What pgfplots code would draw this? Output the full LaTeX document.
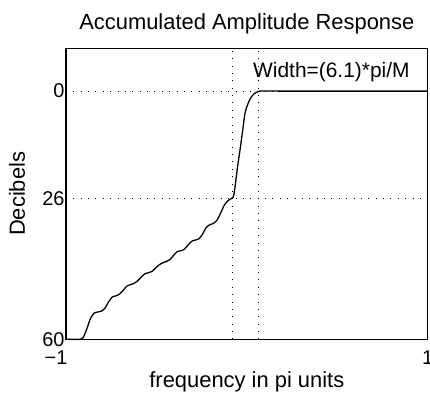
\documentclass[border=0pt]{standalone}
\usepackage{pgfplots}
\pgfplotsset{compat=1.18}
\usepackage{fontspec}
\setmainfont{Liberation Sans}
\begin{document}
\begin{tikzpicture}
\useasboundingbox (-66bp,-59.7bp) rectangle (364bp,339.3bp);
\begin{axis}[
  at={(0,0)}, anchor=south west,
  scale only axis, width=361.7bp, height=290.8bp,
  xmin=-1, xmax=1, ymin=-60, ymax=10.3,
  xtick={-1,-0.08,0.064,1},
  xticklabels={\makebox[0pt][r]{−1\kern-1.4bp},,,1},
  ytick={-60,-26,0},
  yticklabels={60,26,0},
  major tick length=0pt,
  /pgf/number format/assume math mode=true,
  tick label style={font=\fontsize{20}{22}\selectfont},
  xticklabel style={yshift=-8bp},
  yticklabel style={xshift=2bp},
  grid=major,
  major grid style={black, line width=0.9pt, dash pattern=on 0.9pt off 6.5pt},
  axis line style={black, line width=1.3pt},
  clip=false,
]
\addplot[black, line width=1.3pt, smooth, tension=0.4] coordinates {
(-1,-60) (-0.92,-60) (-0.905,-59.6) (-0.885,-57.5) (-0.865,-55) (-0.845,-53.7)
(-0.825,-53.4) (-0.805,-53.2) (-0.785,-52.5) (-0.765,-51) (-0.745,-49.8)
(-0.725,-49.5) (-0.705,-49.1) (-0.685,-48.2) (-0.665,-47.2) (-0.645,-46.8)
(-0.625,-46.5) (-0.605,-45.9) (-0.585,-45) (-0.565,-44.2) (-0.545,-43.9)
(-0.525,-43.6) (-0.505,-42.8) (-0.485,-42) (-0.465,-41.5) (-0.445,-41.2)
(-0.425,-40.7) (-0.405,-39.7) (-0.385,-38.8) (-0.365,-38.6) (-0.345,-38.2)
(-0.325,-37.2) (-0.305,-36.3) (-0.285,-36.0) (-0.265,-35.7) (-0.245,-34.6)
(-0.225,-33.0) (-0.205,-32.3) (-0.185,-32.0) (-0.165,-31.2) (-0.145,-29.5)
(-0.125,-27.6) (-0.105,-26.5) (-0.090,-26.1) (-0.075,-25.6) (-0.0655,-23.2)
(-0.052,-18.5) (-0.038,-14.3) (-0.024,-9.8) (-0.010,-5.3) (0.003,-3.4)
(0.017,-2.0) (0.030,-1.1) (0.045,-0.5) (0.06,-0.15) (0.073,0) (0.2,0) (1,0)
};
\node[anchor=base west, font=\fontsize{21}{24}\selectfont, inner sep=0pt] at (axis cs:0.034,3.4) {Width=(6.1)*pi/M};
\node[anchor=base, font=\fontsize{22}{26}\selectfont, inner sep=0pt] at ([yshift=18.5bp]rel axis cs:0.5,1) {Accumulated Amplitude Response};
\node[anchor=base, font=\fontsize{22}{26}\selectfont, inner sep=0pt] at ([yshift=-47.7bp]rel axis cs:0.5,0) {frequency in pi units};
\node[rotate=90, font=\fontsize{22}{26}\selectfont, inner sep=0pt] at ([xshift=-49bp]rel axis cs:0,0.5) {Decibels};
\end{axis}
\end{tikzpicture}
\end{document}
